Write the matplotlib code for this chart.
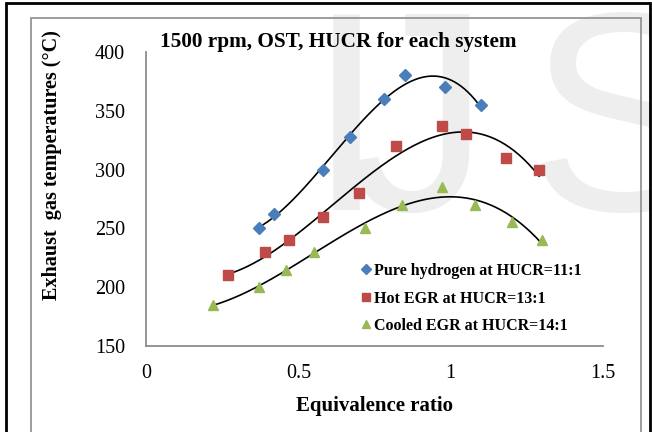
import numpy as np
import matplotlib.pyplot as plt
from matplotlib.patches import Rectangle

plt.rcParams['font.family'] = ['Liberation Serif', 'DejaVu Serif']

# Exhaust gas temperature vs equivalence ratio, three fuelling systems
phi_h2 = [0.37, 0.42, 0.58, 0.67, 0.78, 0.85, 0.98, 1.10]
t_h2 = [250, 262, 300, 328, 360, 380, 370, 355]

phi_hot = [0.27, 0.39, 0.47, 0.58, 0.70, 0.82, 0.97, 1.05, 1.18, 1.29]
t_hot = [210, 230, 240, 260, 280, 320, 337, 330, 310, 300]

phi_cool = [0.22, 0.37, 0.46, 0.55, 0.72, 0.84, 0.97, 1.08, 1.20, 1.30]
t_cool = [185, 200, 215, 230, 250, 270, 285, 270, 255, 240]

labels = ['Pure hydrogen at HUCR=11:1',
          'Hot EGR at HUCR=13:1',
          'Cooled EGR at HUCR=14:1']

fig = plt.figure(figsize=(6.52, 4.32), dpi=100)

# faint watermark letters behind everything
wm = dict(fontsize=205, color='#eeeeee', va='baseline', family='Liberation Sans', zorder=-2)
fig.text(0.531, 0.514, 'I', ha='center', **wm)
fig.text(0.752, 0.514, 'J', ha='right', **wm)
fig.text(0.808, 0.514, 'S', ha='left', **wm)

# outer black frame and inner grey frame
fig.patches.append(Rectangle((0.009, -0.01), 0.988, 1.003, transform=fig.transFigure,
                             fill=False, edgecolor='black', lw=2, zorder=-1))
fig.patches.append(Rectangle((0.0475, -0.01), 0.936, 0.968, transform=fig.transFigure,
                             fill=False, edgecolor='#8c8c8c', lw=1.2, zorder=-1))

ax = fig.add_axes([0.224, 0.199, 0.701, 0.681])
ax.patch.set_alpha(0)

series = [
    (phi_h2, t_h2, 'D', '#4a7ebb', 6),
    (phi_hot, t_hot, 's', '#be4b48', 7),
    (phi_cool, t_cool, '^', '#98b954', 7.5),
]
for (x, y, m, c, ms), lab in zip(series, labels):
    ax.plot(x, y, m, color=c, ms=ms, mec=c, label=lab, zorder=3)
    # cubic trendline through each series
    coef = np.polyfit(x, y, 3)
    xs = np.linspace(min(x), max(x), 200)
    ax.plot(xs, np.polyval(coef, xs), color='black', lw=1.2, zorder=2)

ax.set_xlim(0, 1.5)
ax.set_ylim(150, 400)
ax.set_xticks([0, 0.5, 1, 1.5])
ax.set_xticklabels(['0', '0.5', '1', '1.5'])
ax.set_yticks([150, 200, 250, 300, 350, 400])
ax.tick_params(labelsize=14.5, length=0)
ax.tick_params(axis='x', pad=13)
ax.tick_params(axis='y', pad=15)
for s in ['top', 'right']:
    ax.spines[s].set_visible(False)
for s in ['left', 'bottom']:
    ax.spines[s].set_color('#8c8c8c')
    ax.spines[s].set_linewidth(1.3)

ax.set_xlabel('Equivalence ratio', fontsize=15, fontweight='bold', labelpad=9)
fig.text(52 / 652, 1 - 165 / 432, 'Exhaust  gas temperatures (°C)', rotation=90,
         fontsize=14.5, fontweight='bold', ha='center', va='center')
ax.text(0.03, 1.034, '1500 rpm, OST, HUCR for each system', transform=ax.transAxes,
        fontsize=15.3, fontweight='bold', va='center')

ax.legend(loc='lower right', bbox_to_anchor=(0.985, -0.008), frameon=False,
          prop={'weight': 'bold', 'size': 11.5}, handletextpad=0.0,
          handlelength=1.0, markerscale=0.8, labelspacing=0.72)

fig.savefig('out.png', dpi=100)
